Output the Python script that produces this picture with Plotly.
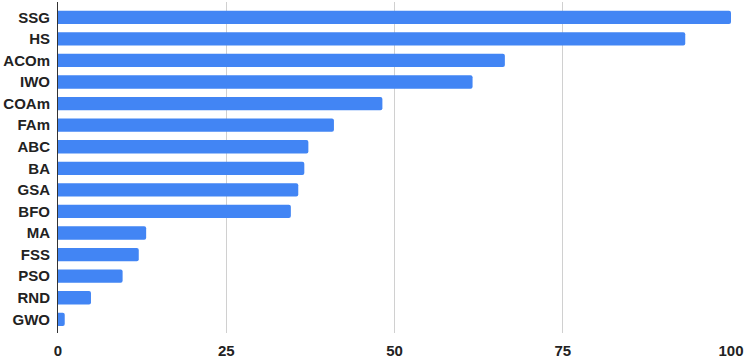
import plotly.graph_objects as go

categories = ["SSG", "HS", "ACOm", "IWO", "COAm", "FAm", "ABC", "BA", "GSA", "BFO",
              "MA", "FSS", "PSO", "RND", "GWO"]
values = [100, 93.2, 66.4, 61.6, 48.2, 41.0, 37.2, 36.6, 35.7, 34.6,
          13.1, 12.0, 9.6, 4.9, 1.0]
x_ticks = [0, 25, 50, 75, 100]

FONT = "Liberation Sans, Arial, sans-serif"

fig = go.Figure(go.Bar(
    x=values, y=categories, orientation="h",
    marker=dict(color="#4285F4", line=dict(width=0), cornerradius=2),
))
fig.update_layout(
    width=750, height=363,
    margin=dict(l=58, r=19, t=2, b=30, autoexpand=False),
    plot_bgcolor="white", paper_bgcolor="white",
    bargap=0.383,
    showlegend=False,
    font=dict(family=FONT, size=15, color="#222222"),
)
fig.update_xaxes(
    range=[0, 100], tickvals=x_ticks, ticktext=[str(v) for v in x_ticks],
    showgrid=True, gridcolor="#d0d0d0", gridwidth=1,
    zeroline=False, showline=False, automargin=False,
    tickfont=dict(family=FONT, size=15, color="#222222", weight="bold"),
    ticklabelstandoff=7,
)
fig.update_yaxes(
    categoryorder="array", categoryarray=categories[::-1],
    range=[-0.635, 14.71],
    showgrid=False, zeroline=False, automargin=False,
    showline=True, linecolor="#333333", linewidth=1,
    tickfont=dict(family=FONT, size=15, color="#222222", weight="bold"),
    ticklabelstandoff=4,
)
fig.write_html(
    "out.html",
    config={"displayModeBar": False},
    post_script="document.body.style.margin='0';document.body.style.overflow='hidden';",
)
